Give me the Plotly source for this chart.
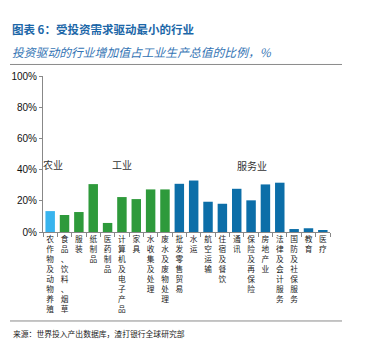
import plotly.graph_objects as go

categories = ["农作物及动物养殖", "食品、饮料、烟草", "服装", "纸制品", "医药制品",
              "计算机及电子产品", "家具", "水收集及处理", "废水及废物处理", "批发零售贸易",
              "水运", "航空运输", "住宿及餐饮", "通讯", "保险及再保险",
              "房地产业", "法律及会计服务", "国防及社保服务", "教育", "医疗"]
values = [0.134, 0.109, 0.128, 0.307, 0.058,
          0.224, 0.211, 0.273, 0.273, 0.309,
          0.330, 0.194, 0.181, 0.277, 0.203,
          0.305, 0.316, 0.019, 0.024, 0.013]
sectors = ["农业"] + ["工业"] * 8 + ["服务业"] * 11
sector_colors = {"农业": "#38B4EE", "工业": "#2E9A3B", "服务业": "#0C6EA8"}
y_ticks = [0, 0.2, 0.4, 0.6, 0.8, 1.0]

W, H = 366, 343
L, R, T, B = 43, 330, 76, 231.7

def px(x):
    return (x - L) / (R - L)

def py(y):
    return (B - y) / (B - T)

fig = go.Figure()
fig.add_trace(go.Bar(
    x=categories, y=values,
    marker=dict(color=[sector_colors[s] for s in sectors], line=dict(width=0)),
    width=0.66,
))

ticktext = ["<br>".join(list(c)) for c in categories]

annotations = [
    dict(text="<b>图表 6：受投资需求驱动最小的行业</b>", x=px(10), y=py(29), xref="paper", yref="paper",
         xanchor="left", yanchor="middle", showarrow=False,
         font=dict(family="Noto Sans CJK SC", size=11.5, color="#1C67A8")),
    dict(text="<i>投资驱动的行业增加值占工业生产总值的比例，%</i>", x=px(10), y=py(52), xref="paper", yref="paper",
         xanchor="left", yanchor="middle", showarrow=False,
         font=dict(family="Noto Sans CJK SC", size=11.8, color="#3474B4")),
    dict(text="来源：世界投入产出数据库，渣打银行全球研究部", x=px(11), y=py(333), xref="paper", yref="paper",
         xanchor="left", yanchor="middle", showarrow=False,
         font=dict(family="Noto Sans CJK SC", size=7.8, color="#222222")),
]
for name, cx, cy in [("农业", 53, 164), ("工业", 122, 164), ("服务业", 252, 165)]:
    annotations.append(dict(text=name, x=px(cx), y=py(cy), xref="paper", yref="paper",
                            xanchor="center", yanchor="middle", showarrow=False,
                            font=dict(family="Noto Sans CJK SC", size=10, color="#333333")))

shapes = [
    dict(type="line", xref="paper", yref="paper", x0=px(10), x1=px(342), y0=py(64.5), y1=py(64.5),
         line=dict(color="#8A8A8A", width=1)),
    dict(type="line", xref="paper", yref="paper", x0=px(10), x1=px(342), y0=py(320.5), y1=py(320.5),
         line=dict(color="#8A8A8A", width=1)),
]

fig.update_layout(
    width=W, height=H,
    margin=dict(l=L, r=W - R, t=T, b=H - B, pad=0),
    paper_bgcolor="white", plot_bgcolor="white",
    showlegend=False,
    annotations=annotations,
    shapes=shapes,
    xaxis=dict(
        tickmode="array", tickvals=categories, ticktext=ticktext,
        tickangle=0, tickson="boundaries", ticks="outside", ticklen=4, tickcolor="#888888",
        showline=True, linecolor="#888888", linewidth=1, showgrid=False,
        tickfont=dict(family="Noto Sans CJK SC", size=7.7, color="#222222"),
        automargin=False,
    ),
    yaxis=dict(
        range=[0, 1], tickvals=y_ticks, tickformat=".0%",
        ticks="outside", ticklen=3, tickcolor="#888888",
        showline=True, linecolor="#888888", linewidth=1, showgrid=False, zeroline=False,
        tickfont=dict(family="Arial, Liberation Sans", size=10, color="#111111"),
        automargin=False,
    ),
)

fig.write_html("out.html")
